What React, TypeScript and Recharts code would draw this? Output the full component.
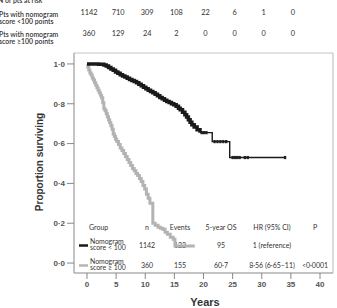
import React from 'react';
import { ComposedChart, Line, Scatter, XAxis, YAxis, ReferenceLine } from 'recharts';

// ---- data ----
const blackTime = [0, 1, 2, 2.9, 3.3, 3.7, 4.1, 4.5, 4.9, 5.3, 5.7, 6.1, 6.5, 6.9, 7.3, 7.7, 8.1, 8.5, 8.9, 9.3, 9.7, 10.1, 10.5, 10.9, 11.3, 11.7, 12.1, 12.5, 12.9, 13.3, 13.7, 14.1, 14.5, 14.9, 15.3, 15.7, 16.0, 16.4, 16.8, 17.1, 17.4, 17.7, 18.0, 18.4, 18.9, 19.4, 21.5, 24.5, 34];
const blackSurv = [1, 1, 0.998, 0.995, 0.99, 0.982, 0.975, 0.968, 0.96, 0.953, 0.946, 0.94, 0.934, 0.928, 0.922, 0.917, 0.912, 0.905, 0.898, 0.89, 0.883, 0.876, 0.868, 0.862, 0.855, 0.848, 0.84, 0.832, 0.825, 0.818, 0.812, 0.806, 0.8, 0.795, 0.787, 0.778, 0.77, 0.758, 0.745, 0.733, 0.72, 0.707, 0.695, 0.683, 0.67, 0.655, 0.61, 0.53, 0.53];
const blackSplitTime = 19.4;

const blackCensorTime = [19.7, 20.1, 20.5, 21.9, 22.4, 22.9, 23.4, 23.9, 25.0, 25.4, 25.8, 26.2, 27.1, 27.6, 34];
const blackCensorSurv = [0.655, 0.655, 0.655, 0.61, 0.61, 0.61, 0.61, 0.61, 0.53, 0.53, 0.53, 0.53, 0.53, 0.53, 0.53];

const grayTime = [0, 0.15, 0.3, 0.5, 0.7, 0.9, 1.1, 1.3, 1.5, 1.7, 1.9, 2.1, 2.3, 2.5, 2.7, 2.9, 3.1, 3.3, 3.5, 3.7, 3.9, 4.1, 4.3, 4.5, 4.7, 4.9, 5.1, 5.4, 5.7, 6.0, 6.3, 6.6, 6.9, 7.2, 7.5, 7.8, 8.1, 8.4, 8.7, 9.0, 9.3, 9.6, 9.9, 10.2, 10.5, 10.8, 11.3, 11.7, 12.2, 12.6, 13.0, 13.4, 13.8, 14.3, 14.8, 15.1, 18.5];
const graySurv = [1, 0.985, 0.97, 0.955, 0.945, 0.93, 0.92, 0.905, 0.893, 0.88, 0.868, 0.855, 0.843, 0.83, 0.805, 0.775, 0.765, 0.75, 0.735, 0.718, 0.705, 0.69, 0.672, 0.648, 0.635, 0.622, 0.61, 0.595, 0.578, 0.565, 0.55, 0.535, 0.52, 0.505, 0.49, 0.475, 0.463, 0.45, 0.44, 0.425, 0.41, 0.39, 0.372, 0.345, 0.325, 0.3, 0.2, 0.19, 0.18, 0.175, 0.17, 0.155, 0.145, 0.13, 0.12, 0.085, 0.085];

const xTicks = [0, 5, 10, 15, 20, 25, 30, 35, 40];
const yTicks = [0, 0.2, 0.4, 0.6, 0.8, 1.0];

const riskTimes = [0, 5, 10, 15, 20, 25, 30, 35];
const riskLow = [1142, 710, 309, 108, 22, 6, 1, 0];
const riskHigh = [360, 129, 24, 2, 0, 0, 0, 0];

const tableHeaders = ['Group', 'n', 'Events', '5-year OS', 'HR (95% CI)', 'P'];
const tableLow = ['1142', '122', '95', '1 (reference)', ''];
const tableHigh = ['360', '155', '60·7', '8·56 (6·65–11)', '<0·0001'];

// ---- layout ----
const W = 337;
const H = 308;
const PLOT = { left: 74, right: 333, top: 53, bottom: 273 };
const X_DOMAIN: [number, number] = [-2.23, 42.23];
const Y_DOMAIN: [number, number] = [-0.05, 1.055];

const xPos = (t: number) =>
  PLOT.left + ((t - X_DOMAIN[0]) / (X_DOMAIN[1] - X_DOMAIN[0])) * (PLOT.right - PLOT.left);

const toPts = (ts: number[], ss: number[]) => ts.map((t, i) => ({ t, s: ss[i] }));
const blackAll = toPts(blackTime, blackSurv);
const blackEarly = blackAll.filter((p) => p.t <= blackSplitTime);
const blackLate = blackAll.filter((p) => p.t >= blackSplitTime);
const blackCensor = toPts(blackCensorTime, blackCensorSurv);
const grayData = toPts(grayTime, graySurv);

const fmt = (v: number) => v.toFixed(1).replace('.', '·');

const TXT = '#333';
const FONT = 'Lato, "Open Sans", sans-serif';

const CensorMark = (props: any) => {
  const { cx, cy } = props;
  if (cx == null || cy == null) return null;
  return <rect x={cx - 1.2} y={cy - 1.6} width={2.4} height={3.2} fill="#222" />;
};

function Overlay() {
  const colX = [89, 147, 180, 221, 272, 315];
  return (
    <svg width={W} height={H} style={{ position: 'absolute', left: 0, top: 0 }}>
      <g fontFamily={FONT} fill={TXT} fontSize={6.9}>
        <text x={-2} y={2.5} fontWeight={600}>N of pts at risk</text>
        <text x={-1} y={16.5} fontWeight={600}>Pts with nomogram</text>
        <text x={-1} y={23.5} fontWeight={600}>score &lt;100 points</text>
        <text x={-1} y={37} fontWeight={600}>Pts with nomogram</text>
        <text x={-1} y={44} fontWeight={600}>score ≥100 points</text>
      </g>
      <g fontFamily={FONT} fill={TXT} fontSize={7.4}>
        {riskTimes.map((t, i) => (
          <text key={'a' + i} x={xPos(t) + 2} y={14.5} textAnchor="middle">{riskLow[i]}</text>
        ))}
        {riskTimes.map((t, i) => (
          <text key={'b' + i} x={xPos(t) + 2} y={36} textAnchor="middle">{riskHigh[i]}</text>
        ))}
      </g>
      <g fontFamily={FONT} fill={TXT} fontSize={7}>
        {tableHeaders.map((h, i) => (
          <text key={h} x={colX[i]} y={229.5} textAnchor={i === 0 ? 'start' : 'middle'}>{h}</text>
        ))}
        <line x1={79} x2={88} y1={245.5} y2={245.5} stroke="#1a1a1a" strokeWidth={2.5} />
        <line x1={79} x2={88} y1={265.5} y2={265.5} stroke="#b5b5b5" strokeWidth={2.5} />
        {tableLow.map((v, i) => (
          <text key={'l' + i} x={colX[i + 1]} y={248} textAnchor="middle">{v}</text>
        ))}
        {tableHigh.map((v, i) => (
          <text key={'h' + i} x={colX[i + 1]} y={268} textAnchor="middle">{v}</text>
        ))}
      </g>
      <g fontFamily={FONT} fill={TXT} fontSize={6.9}>
        <text x={90} y={243.8}>Nomogram</text>
        <text x={90} y={250}>score &lt; 100</text>
        <text x={90} y={263.8}>Nomogram</text>
        <text x={90} y={270}>score ≥ 100</text>
      </g>
      <text
        x={0}
        y={0}
        transform="translate(43,162) rotate(-90)"
        textAnchor="middle"
        fontFamily='"Liberation Sans", Arial, sans-serif'
        fontWeight="bold"
        fontSize={10}
        fill={TXT}
      >
        Proportion surviving
      </text>
      <text
        x={205}
        y={306}
        textAnchor="middle"
        fontFamily='"Liberation Sans", Arial, sans-serif'
        fontWeight="bold"
        fontSize={11}
        fill={TXT}
      >
        Years
      </text>
    </svg>
  );
}

export default function App() {
  const tickStyle = { fill: '#555', fontSize: 8, fontWeight: 700, fontFamily: '"Liberation Sans", Arial, sans-serif' };
  return (
    <div style={{ position: 'absolute', left: 0, top: 0, width: W, height: H, background: '#fff' }}>
      <Overlay />
      <div style={{ position: 'absolute', left: 0, top: 0 }}>
        <ComposedChart width={W} height={H} margin={{ top: PLOT.top, right: W - PLOT.right, bottom: 0, left: 0 }}>
          <XAxis
            type="number"
            dataKey="t"
            domain={X_DOMAIN}
            allowDataOverflow
            ticks={xTicks}
            height={H - PLOT.bottom}
            tickSize={6}
            tickMargin={2}
            stroke="#888"
            tick={tickStyle}
          />
          <YAxis
            type="number"
            dataKey="s"
            domain={Y_DOMAIN}
            allowDataOverflow
            ticks={yTicks}
            width={PLOT.left}
            tickSize={7}
            tickMargin={2}
            stroke="#888"
            tick={tickStyle}
            tickFormatter={fmt}
          />
          <ReferenceLine y={Y_DOMAIN[1]} stroke="#c4c4c4" strokeWidth={1.2} />
          <ReferenceLine x={X_DOMAIN[1]} stroke="#c4c4c4" strokeWidth={1.2} />
          <Line
            data={grayData}
            dataKey="s"
            type="stepAfter"
            stroke="#b3b3b3"
            strokeWidth={3}
            dot={false}
            activeDot={false}
            isAnimationActive={false}
          />
          <Line
            data={blackEarly}
            dataKey="s"
            type="stepAfter"
            stroke="#1a1a1a"
            strokeWidth={3.5}
            dot={false}
            activeDot={false}
            isAnimationActive={false}
          />
          <Line
            data={blackLate}
            dataKey="s"
            type="stepAfter"
            stroke="#1a1a1a"
            strokeWidth={1.4}
            dot={false}
            activeDot={false}
            isAnimationActive={false}
          />
          <Scatter data={blackCensor} dataKey="s" shape={<CensorMark />} isAnimationActive={false} />
        </ComposedChart>
      </div>
    </div>
  );
}
